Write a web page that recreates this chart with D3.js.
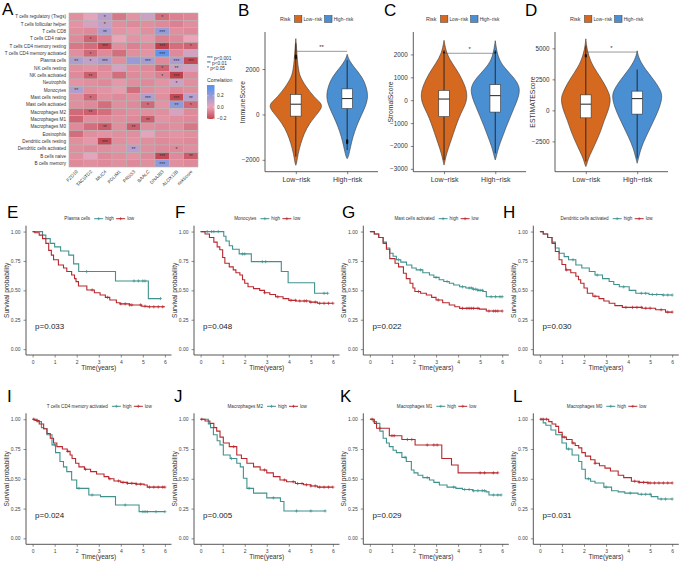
<!DOCTYPE html>
<html><head><meta charset="utf-8">
<script src="https://cdn.jsdelivr.net/npm/d3@7"></script>
<style>body{margin:0;background:#fff} svg{display:block} text{font-family:"Liberation Sans",Arial,sans-serif}</style>
</head><body><svg id="c" width="685" height="563"></svg>
<script>
// ---------------- DATA ----------------
const heatRows = ["T cells regulatory (Tregs)","T cells follicular helper","T cells CD8","T cells CD4 naive","T cells CD4 memory resting","T cells CD4 memory activated","Plasma cells","NK cells resting","NK cells activated","Neutrophils","Monocytes","Mast cells resting","Mast cells activated","Macrophages M2","Macrophages M1","Macrophages M0","Eosinophils","Dendritic cells resting","Dendritic cells activated","B cells naive","B cells memory"];
const heatCols = ["FZD10","TACSTD2","MUC4","PDLIM1","PRSS3","BAALC","DNAJB3","ALOX12B","riskScore"];
const heatValues = [
 [-0.05, 0.02, 0.12,-0.10,-0.04, 0.08,-0.12,-0.08,-0.07],
 [-0.04, 0.05, 0.10,-0.05,-0.06,-0.05,-0.06,-0.08,-0.05],
 [-0.05,-0.06, 0.15,-0.04,-0.03,-0.05, 0.20,-0.05,-0.06],
 [-0.06,-0.14,-0.08, 0.00,-0.04,-0.03,-0.08,-0.06, 0.00],
 [-0.10,-0.12,-0.20,-0.05,-0.08,-0.06,-0.22,-0.12,-0.14],
 [-0.05,-0.13,-0.06,-0.12,-0.05,-0.04, 0.33,-0.06, 0.06],
 [ 0.15, 0.10, 0.16,-0.05, 0.20, 0.16,-0.06, 0.15,-0.20],
 [-0.05,-0.04,-0.06, 0.05,-0.05,-0.06,-0.14, 0.08, 0.05],
 [-0.06,-0.15,-0.05,-0.12,-0.06,-0.05,-0.08,-0.22,-0.06],
 [-0.04,-0.05,-0.06,-0.03,-0.05,-0.06,-0.04, 0.08,-0.05],
 [ 0.14,-0.05,-0.04,-0.02,-0.12,-0.05,-0.04,-0.06,-0.05],
 [-0.05,-0.13,-0.05,-0.06,-0.05, 0.14,-0.05,-0.20, 0.12],
 [-0.05,-0.06,-0.12,-0.05,-0.06,-0.13,-0.04, 0.22,-0.13],
 [-0.13,-0.15,-0.12,-0.06,-0.05,-0.05,-0.05, 0.05,-0.06],
 [-0.14,-0.05,-0.06,-0.05,-0.06,-0.15,-0.04,-0.05,-0.06],
 [-0.06,-0.12,-0.16,-0.05,-0.15,-0.05,-0.06,-0.05,-0.10],
 [-0.12,-0.05,-0.04,-0.05,-0.05, 0.02,-0.05,-0.04,-0.05],
 [-0.05,-0.03,-0.20,-0.05,-0.04,-0.05,-0.06,-0.05,-0.06],
 [-0.05,-0.06,-0.05,-0.04, 0.12,-0.05,-0.06,-0.06,-0.05],
 [-0.05, 0.02,-0.06,-0.05,-0.04,-0.06,-0.20,-0.06,-0.16],
 [-0.06,-0.05,-0.06,-0.05,-0.06,-0.05, 0.22,-0.05,-0.06]
];
const heatStars = [
 ["","","*","","","","*","",""],
 ["","","*","","","","","",""],
 ["","","**","","","","***","",""],
 ["","*","","","","","","",""],
 ["","","***","","","","***","","*"],
 ["","*","","","","","***","",""],
 ["**","*","***","","","***","","***","***"],
 ["","","","","","","*","**",""],
 ["","**","","","","","*","***",""],
 ["","","","","","","","*",""],
 ["**","","","","","","","",""],
 ["","*","","","","***","","***","**"],
 ["","","","","","*","","**","*"],
 ["","**","","","","","","",""],
 ["","","","","","**","","",""],
 ["","","**","","**","","","",""],
 ["","","","","","","","",""],
 ["","","***","","","","","",""],
 ["","","","","**","","","*",""],
 ["","","","","","","***","","**"],
 ["","","","","","","***","",""]
];
const corrTicks = [0.2, 0.0, -0.2];
const sigLegend = ["*** p<0.001","** p<0.01","* p<0.05"];

const riskGroups = ["Low-risk","High-risk"];
// violin outlines: [score, relative density]
const immuneLowShape = [[3340,0],[2900,0.03],[2390,0.06],[2000,0.1],[1650,0.16],[1210,0.4],[770,0.7],[480,0.99],[300,1.0],[44,0.84],[-395,0.52],[-835,0.32],[-1275,0.19],[-1714,0.09],[-2150,0.03],[-2240,0]];
const immuneHighShape = [[2650,0],[2390,0.07],[2090,0.26],[1650,0.58],[1210,0.74],[770,0.81],[330,0.7],[-110,0.51],[-545,0.35],[-985,0.22],[-1425,0.13],[-1860,0.05],[-1950,0]];
// [lower line end, Q1, median, Q3, upper line end]
const immuneBoxes = [[-1860,-75,450,880,3130],[-1570,260,700,1125,2390]];
const immuneOutliers = [[2470,2500,2530,2560,2590],[-1140,-1170,-1200,-1230,-1260]];
const stromalLowShape = [[2615,0],[2035,0.09],[1600,0.32],[1165,0.58],[728,0.77],[292,0.9],[-144,0.85],[-580,0.64],[-1015,0.49],[-1450,0.36],[-1890,0.23],[-2325,0.1],[-2690,0.03],[-2835,0]];
const stromalHighShape = [[2600,0],[1890,0.09],[1450,0.32],[1015,0.7],[580,0.96],[144,0.9],[-292,0.74],[-728,0.58],[-1165,0.42],[-1600,0.28],[-2035,0.13],[-2470,0.04],[-2615,0]];
const stromalBoxes = [[-2615,-720,50,430,2180],[-2320,-520,200,680,2180]];
const stromalOutliers = [[2080],[2080]];
const estimateLowShape = [[5765,0],[4940,0.04],[3850,0.19],[3020,0.45],[2200,0.7],[1375,0.9],[825,0.96],[0,0.87],[-825,0.7],[-1650,0.58],[-2470,0.41],[-3295,0.23],[-3850,0.1],[-4395,0.03],[-4530,0]];
const estimateHighShape = [[4800,0],[4120,0.07],[3295,0.32],[2470,0.64],[1650,0.9],[1100,0.97],[275,0.87],[-550,0.7],[-1375,0.51],[-2200,0.32],[-3020,0.15],[-3850,0.05],[-4260,0]];
const estimateBoxes = [[-4120,-600,500,1250,5215],[-3850,-300,950,1550,3295]];
const estimateOutliers = [[4350,4450],[]];
const immuneTicks = [-2000,0,2000];
const stromalTicks = [-3000,-2000,-1000,0,1000,2000];
const estimateTicks = [-2500,0,2500,5000];

// Kaplan-Meier curves: [time(years), survival]
const plasmaHigh = [[0,1],[0.45,0.97],[0.6,0.94],[0.8,0.9],[1.0,0.87],[1.27,0.835],[1.64,0.8],[1.86,0.725],[2.09,0.66],[3.76,0.58],[5.25,0.43],[5.8,0.43]];
const plasmaLow = [[0,1],[0.1,0.99],[0.3,0.97],[0.45,0.94],[0.6,0.9],[0.73,0.84],[0.85,0.8],[0.95,0.76],[1.17,0.716],[1.4,0.69],[1.55,0.66],[1.77,0.63],[1.9,0.6],[1.97,0.574],[2.08,0.537],[2.46,0.503],[2.8,0.48],[3.06,0.46],[3.3,0.44],[3.5,0.418],[3.8,0.395],[3.96,0.385],[4.4,0.376],[4.95,0.365],[5.2,0.36],[6.0,0.36]];
const plasmaHighCens = [2.45,4.6,4.8,5.0,5.1,5.8];
const plasmaLowCens = [2.7,3.4,4.0,4.2,4.4,4.5,4.9,5.1,5.3,5.5,5.7,5.9];
const monoHigh = [[0,1],[1.05,0.96],[1.15,0.92],[1.3,0.88],[1.45,0.85],[1.75,0.81],[2.3,0.744],[3.66,0.66],[3.97,0.565],[5.17,0.475],[5.76,0.475]];
const monoLow = [[0,1],[0.2,0.98],[0.4,0.95],[0.6,0.91],[0.75,0.87],[0.87,0.845],[1.0,0.78],[1.1,0.73],[1.3,0.7],[1.48,0.674],[1.6,0.65],[1.78,0.63],[1.9,0.59],[2.0,0.56],[2.15,0.53],[2.4,0.515],[2.68,0.5],[2.9,0.48],[3.14,0.465],[3.4,0.445],[3.74,0.43],[4.0,0.415],[4.34,0.41],[4.95,0.4],[5.3,0.39],[6.0,0.39]];
const monoHighCens = [0.3,0.5,0.6,0.8,1.9,2.0,2.8,2.95,5.6,5.76];
const monoLowCens = [2.9,3.5,4.1,4.3,4.5,4.7,4.8,5.0,5.2,5.4,5.6,5.8,6.0];
const mastHigh = [[0,1],[0.2,0.98],[0.4,0.95],[0.6,0.91],[0.75,0.86],[0.9,0.815],[1.05,0.79],[1.2,0.76],[1.4,0.74],[1.66,0.716],[1.9,0.69],[2.1,0.674],[2.4,0.65],[2.7,0.63],[2.9,0.61],[3.14,0.59],[3.35,0.575],[3.6,0.56],[3.8,0.545],[4.07,0.53],[4.35,0.52],[4.67,0.51],[4.9,0.5],[5.13,0.49],[5.28,0.446],[6.0,0.446]];
const mastLow = [[0,1],[0.2,0.98],[0.4,0.95],[0.6,0.9],[0.75,0.85],[0.9,0.77],[1.14,0.73],[1.3,0.7],[1.52,0.645],[1.65,0.6],[1.82,0.56],[1.95,0.52],[2.04,0.49],[2.3,0.475],[2.56,0.46],[2.8,0.44],[3.0,0.418],[3.3,0.395],[3.6,0.375],[3.85,0.36],[4.07,0.347],[4.97,0.34],[5.28,0.324],[6.0,0.324]];
const mastHighCens = [1.3,2.3,3.0,3.5,4.2,4.5,4.6,4.7,4.8,4.9,5.0,5.1,5.5,5.7,5.9,6.0];
const mastLowCens = [2.2,3.1,4.2,4.4,4.5,4.6,4.7,4.9,5.4,5.6,5.7,5.8,6.0];
const dcHigh = [[0,1],[0.15,0.98],[0.35,0.95],[0.55,0.91],[0.7,0.86],[0.87,0.815],[1.1,0.787],[1.3,0.76],[1.63,0.716],[1.9,0.69],[2.24,0.66],[2.5,0.63],[2.84,0.6],[3.14,0.575],[3.35,0.55],[3.6,0.53],[4.05,0.5],[4.35,0.475],[4.95,0.465],[5.55,0.46],[6.0,0.46]];
const dcLow = [[0,1],[0.15,0.98],[0.35,0.95],[0.55,0.9],[0.7,0.83],[0.87,0.76],[1.0,0.72],[1.17,0.674],[1.4,0.65],[1.63,0.62],[1.75,0.59],[1.85,0.56],[2.0,0.52],[2.15,0.475],[2.4,0.45],[2.68,0.43],[2.9,0.41],[3.14,0.39],[3.4,0.37],[3.74,0.355],[4.65,0.348],[5.25,0.335],[5.7,0.315],[6.0,0.315]];
const dcHighCens = [1.5,2.6,3.8,4.6,4.8,5.1,5.3,5.6,5.8,6.0];
const dcLowCens = [1.2,2.5,3.9,4.2,4.4,4.6,4.8,5.0,5.5,5.8,6.0];
const cd4High = [[0,1],[0.2,0.98],[0.4,0.93],[0.5,0.92],[0.65,0.87],[0.88,0.785],[1.04,0.72],[1.24,0.645],[1.4,0.6],[1.55,0.56],[1.77,0.49],[2.0,0.42],[2.55,0.364],[3.08,0.35],[3.76,0.28],[4.83,0.224],[6.0,0.224]];
const cd4Low = [[0,1],[0.1,0.99],[0.3,0.96],[0.5,0.92],[0.65,0.88],[0.8,0.84],[0.95,0.8],[1.1,0.77],[1.35,0.75],[1.57,0.73],[1.7,0.7],[1.79,0.67],[1.95,0.63],[2.1,0.6],[2.35,0.58],[2.63,0.56],[2.9,0.54],[3.24,0.518],[3.45,0.5],[3.69,0.482],[4.0,0.47],[4.3,0.462],[4.7,0.455],[5.06,0.448],[5.2,0.43],[6.0,0.43]];
const cd4HighCens = [1.0,2.1,2.7,4.2,5.0,5.1,5.2,5.6,6.0];
const cd4LowCens = [0.05,0.2,1.6,2.4,3.5,3.9,4.1,4.3,4.5,4.7,4.9,5.3,5.5,5.7,5.9,6.0];
const m2High = [[0,1],[0.35,0.96],[0.45,0.93],[0.58,0.87],[0.75,0.82],[0.88,0.785],[1.03,0.7],[1.34,0.67],[1.64,0.63],[1.8,0.6],[1.94,0.505],[2.1,0.42],[2.4,0.38],[3.0,0.34],[3.62,0.31],[3.78,0.23],[5.65,0.23]];
const m2Low = [[0,1],[0.2,0.985],[0.42,0.965],[0.6,0.93],[0.73,0.9],[0.88,0.85],[1.03,0.8],[1.3,0.77],[1.64,0.7],[1.85,0.67],[2.1,0.63],[2.4,0.6],[2.7,0.574],[3.0,0.55],[3.3,0.518],[3.6,0.49],[3.9,0.475],[4.3,0.46],[4.67,0.45],[5.0,0.44],[5.3,0.43],[6.0,0.43]];
const m2HighCens = [1.4,2.2,3.3,4.35,5.0,5.65];
const m2LowCens = [0.05,1.5,2.9,3.8,4.2,4.4,4.6,4.8,5.0,5.2,5.4,5.6,5.8,6.0];
const m1High = [[0,1],[0.15,0.98],[0.3,0.965],[0.45,0.9],[0.6,0.84],[0.75,0.8],[0.88,0.77],[1.05,0.74],[1.2,0.72],[1.45,0.68],[1.65,0.645],[1.88,0.574],[2.0,0.55],[2.18,0.53],[2.4,0.51],[2.7,0.49],[2.9,0.47],[3.15,0.448],[3.5,0.43],[3.9,0.42],[4.2,0.41],[4.65,0.4],[5.27,0.39],[5.4,0.364],[5.95,0.364]];
const m1Low = [[0,1],[0.2,0.965],[0.3,0.924],[0.88,0.862],[1.45,0.83],[2.05,0.784],[3.26,0.67],[3.7,0.616],[4.0,0.55],[5.8,0.55]];
const m1HighCens = [1.6,2.6,3.8,4.3,4.5,4.7,4.9,5.1,5.2,5.6,5.8,5.95];
const m1LowCens = [0.1,0.45,1.0,1.1,1.7,1.9,2.6,2.9,3.05,5.0,5.2,5.6,5.8];
const m0High = [[0,1],[0.15,0.97],[0.27,0.95],[0.5,0.91],[0.72,0.87],[1.0,0.8],[1.2,0.75],[1.46,0.7],[1.76,0.645],[1.9,0.58],[2.06,0.5],[2.3,0.48],[2.5,0.465],[2.9,0.43],[3.25,0.4],[3.55,0.39],[3.85,0.38],[4.45,0.37],[5.05,0.35],[5.35,0.33],[6.0,0.33]];
const m0Low = [[0,1],[0.4,0.98],[0.55,0.96],[0.72,0.94],[0.85,0.89],[1.01,0.85],[1.2,0.83],[1.46,0.8],[1.6,0.78],[1.76,0.76],[1.9,0.72],[2.06,0.69],[2.3,0.66],[2.5,0.63],[2.7,0.61],[2.95,0.59],[3.2,0.565],[3.55,0.53],[3.8,0.51],[4.15,0.48],[4.5,0.47],[4.9,0.465],[6.0,0.465]];
const m0HighCens = [1.3,2.2,3.0,4.1,4.6,4.8,5.0,5.5,5.7,6.0];
const m0LowCens = [0.05,0.15,0.3,1.1,1.5,2.5,4.3,4.5,4.7,4.9,5.0,5.2,5.4,5.6,5.8,6.0];
const survTicks = [0,0.25,0.5,0.75,1];
const timeTicks = [0,1,2,3,4,5,6];

// ---------------- DRAWING ----------------
const svg = d3.select("#c");
svg.append("rect").attr("width",685).attr("height",563).attr("fill","#fff");
const ORANGE = "#D4691F", BLUE = "#4A8FD2", TEAL = "#3F928E", RED = "#B8282E", AX = "#333";

function letter(t, x, y) {
  svg.append("text").attr("x", x).attr("y", y).text(t)
    .attr("font-family", "'Liberation Serif','DejaVu Serif',serif").attr("font-size", 17).attr("fill", "#000");
}

// ---- Panel A heatmap ----
letter("A", 2, 15);
const hx = d3.scaleBand().domain(heatCols).range([69, 198]);
const hy = d3.scaleBand().domain(heatRows).range([13, 167]);
const hColor = d3.scaleLinear().domain([-0.22, 0, 0.35]).range(["#C0404C", "#EAA6B8", "#5A93EE"]).clamp(true);
const gA = svg.append("g");
heatRows.forEach((r, i) => {
  heatCols.forEach((c, j) => {
    gA.append("rect").attr("x", hx(c)).attr("y", hy(r)).attr("width", hx.bandwidth()).attr("height", hy.bandwidth())
      .attr("fill", hColor(heatValues[i][j])).attr("stroke", "#b5b5b5").attr("stroke-width", 0.6);
    if (heatStars[i][j]) gA.append("text").attr("x", hx(c) + hx.bandwidth() / 2).attr("y", hy(r) + hy.bandwidth() / 2 + 2.3)
      .attr("text-anchor", "middle").attr("font-size", 5).attr("fill", "#333").text(heatStars[i][j]);
  });
  gA.append("text").attr("x", 66).attr("y", hy(r) + hy.bandwidth() / 2 + 1.7).attr("text-anchor", "end")
    .attr("font-size", 4.6).attr("fill", "#333").text(r);
});
heatCols.forEach(c => {
  const cx = hx(c) + hx.bandwidth() / 2;
  gA.append("text").attr("transform", `translate(${cx + 2},${172}) rotate(-45)`).attr("text-anchor", "end")
    .attr("font-size", 4.6).attr("fill", "#333").text(c);
});
sigLegend.forEach((s, i) => {
  gA.append("text").attr("x", 207).attr("y", 60 + i * 5.2).attr("font-size", 4.8).attr("fill", "#333").text(s);
});
gA.append("text").attr("x", 207).attr("y", 82).attr("font-size", 5.2).attr("fill", "#333").text("Correlation");
const cb = d3.scaleLinear().domain([-0.21, 0.39]).range([119, 85]);
const grad = svg.append("defs").append("linearGradient").attr("id", "cg").attr("x1", 0).attr("x2", 0).attr("y1", 1).attr("y2", 0);
d3.range(0, 1.0001, 0.1).forEach(f => {
  const v = -0.21 + f * 0.6;
  grad.append("stop").attr("offset", f).attr("stop-color", hColor(v));
});
gA.append("rect").attr("x", 207).attr("y", 85).attr("width", 7.5).attr("height", 34).attr("fill", "url(#cg)");
corrTicks.forEach(t => {
  gA.append("line").attr("x1", 207).attr("x2", 208.5).attr("y1", cb(t)).attr("y2", cb(t)).attr("stroke", "#fff").attr("stroke-width", 0.5);
  gA.append("line").attr("x1", 213).attr("x2", 214.5).attr("y1", cb(t)).attr("y2", cb(t)).attr("stroke", "#fff").attr("stroke-width", 0.5);
  gA.append("text").attr("x", 217).attr("y", cb(t) + 1.7).attr("font-size", 4.8).attr("fill", "#333").text(t.toFixed(1).replace("-", "\u2212"));
});

// ---- Violin panels ----
function violinPanel(o) {
  const g = svg.append("g");
  const y = d3.scaleLinear().domain(o.domain).range([171.7, 32]);
  const x = d3.scalePoint().domain(riskGroups).range([o.left, o.right]).padding(0.6);
  const w = d3.scaleLinear().domain([0, 1]).range([0, 26]);
  const shapes = [o.low, o.high], cols = [ORANGE, BLUE];
  shapes.forEach((s, k) => {
    const cx = x(riskGroups[k]);
    const area = d3.area().curve(d3.curveBasis).y(d => y(d[0])).x0(d => cx - w(d[1])).x1(d => cx + w(d[1]));
    g.append("path").attr("d", area(s)).attr("fill", cols[k]).attr("stroke", "#3a3a3a").attr("stroke-width", 0.6);
    const b = o.boxes[k];
    g.append("line").attr("x1", cx).attr("x2", cx).attr("y1", y(b[0])).attr("y2", y(b[4])).attr("stroke", "#2a2a2a").attr("stroke-width", 1);
    o.outliers[k].forEach(v => g.append("circle").attr("cx", cx).attr("cy", y(v)).attr("r", 1.1).attr("fill", "#111"));
    g.append("rect").attr("x", cx - 5.3).attr("width", 10.6).attr("y", y(b[3])).attr("height", y(b[1]) - y(b[3]))
      .attr("fill", "#fff").attr("stroke", "#333").attr("stroke-width", 0.6);
    g.append("line").attr("x1", cx - 5.3).attr("x2", cx + 5.3).attr("y1", y(b[2])).attr("y2", y(b[2])).attr("stroke", "#333").attr("stroke-width", 1.1);
  });
  // significance
  g.append("line").attr("x1", x(riskGroups[0])).attr("x2", x(riskGroups[1])).attr("y1", y(o.sig)).attr("y2", y(o.sig))
    .attr("stroke", "#555").attr("stroke-width", 0.6);
  g.append("text").attr("x", (x(riskGroups[0]) + x(riskGroups[1])) / 2).attr("y", y(o.sig) - 2).attr("text-anchor", "middle")
    .attr("font-size", 6).attr("fill", "#333").text(o.sigLabel);
  // axes
  const ya = g.append("g").attr("transform", `translate(${o.left},0)`)
    .call(d3.axisLeft(y).tickValues(o.ticks).tickSize(2.5).tickFormat(d => String(d).replace("-", "\u2212")));
  const xa = g.append("g").attr("transform", `translate(0,171.7)`).call(d3.axisBottom(x).tickSize(2.5).tickFormat(d => d.replace("-", "\u2212")));
  [ya, xa].forEach(a => {
    a.select(".domain").attr("stroke", AX).attr("stroke-width", 0.8);
    a.selectAll(".tick line").attr("stroke", AX).attr("stroke-width", 0.6);
    a.selectAll("text").attr("fill", "#333").attr("font-size", 6.3).attr("font-family", "'Liberation Sans',Arial,sans-serif");
  });
  ya.select(".domain").attr("d", `M0,32V171.7`);
  xa.select(".domain").attr("d", `M${o.left},0H${o.right}`);
  xa.selectAll("text").attr("font-size", 7).attr("dy", "0.75em");
  g.append("text").attr("transform", `translate(${o.left - 20},${102}) rotate(-90)`).attr("text-anchor", "middle")
    .attr("font-size", 6.8).attr("fill", "#333").text(o.title);
  // legend
  const ly = 19;
  let lx = o.legendX;
  const rt = g.append("text").attr("x", lx).attr("y", ly + 2).attr("font-size", 5.4).attr("fill", "#333").text("Risk");
  lx += rt.node().getComputedTextLength() + 4;
  [[ORANGE, "Low\u2212risk"], [BLUE, "High\u2212risk"]].forEach(([col, lab]) => {
    g.append("rect").attr("x", lx).attr("y", ly - 3.4).attr("width", 7.4).attr("height", 6.8).attr("fill", col).attr("stroke", "#333").attr("stroke-width", 0.5);
    lx += 9;
    const t = g.append("text").attr("x", lx).attr("y", ly + 1.8).attr("font-size", 4.7).attr("fill", "#333").text(lab);
    lx += t.node().getComputedTextLength() + 2.5;
  });
}
letter("B", 238, 16);
violinPanel({left: 265, right: 378, domain: [-2523, 3631], ticks: immuneTicks, title: "ImmuneScore",
  low: immuneLowShape, high: immuneHighShape, boxes: immuneBoxes, outliers: immuneOutliers, sig: 2780, sigLabel: "**", legendX: 280});
letter("C", 384, 16);
violinPanel({left: 413.3, right: 526, domain: [-3125, 2980], ticks: stromalTicks, title: "StromalScore",
  low: stromalLowShape, high: stromalHighShape, boxes: stromalBoxes, outliers: stromalOutliers, sig: 2050, sigLabel: "*", legendX: 426});
letter("D", 525, 16);
violinPanel({left: 555, right: 668, domain: [-4940, 6315], ticks: estimateTicks, title: "ESTIMATEScore",
  low: estimateLowShape, high: estimateHighShape, boxes: estimateBoxes, outliers: estimateOutliers, sig: 4700, sigLabel: "*", legendX: 570});

// ---- KM panels ----
function stepVal(curve, t) {
  let v = curve[0][1];
  for (const p of curve) { if (p[0] <= t) v = p[1]; }
  return v;
}
function kmPanel(o) {
  const g = svg.append("g");
  const W = 145.5;
  const x = d3.scaleLinear().domain([-0.3, 6.3]).range([o.left, o.left + W]);
  const y = d3.scaleLinear().domain([-0.05, 1.05]).range([o.bottom, o.top]);
  const line = d3.line().curve(d3.curveStepAfter).x(d => x(d[0])).y(d => y(d[1]));
  [[o.high, o.highC, TEAL], [o.low, o.lowC, RED]].forEach(([c, cens, col]) => {
    g.append("path").attr("d", line(c)).attr("fill", "none").attr("stroke", col).attr("stroke-width", 1.1);
    cens.forEach(t => {
      const px = x(t), py = y(stepVal(c, t));
      g.append("path").attr("d", `M${px - 1.6},${py}H${px + 1.6}M${px},${py - 1.6}V${py + 1.6}`).attr("stroke", col).attr("stroke-width", 0.7);
    });
  });
  const ya = g.append("g").attr("transform", `translate(${o.left},0)`)
    .call(d3.axisLeft(y).tickValues(survTicks).tickSize(2.5).tickFormat(d3.format(".2f")));
  const xa = g.append("g").attr("transform", `translate(0,${o.bottom})`)
    .call(d3.axisBottom(x).tickValues(timeTicks).tickSize(2.5).tickFormat(d3.format("d")));
  [ya, xa].forEach(a => {
    a.select(".domain").attr("stroke", "#444").attr("stroke-width", 0.9);
    a.selectAll(".tick line").attr("stroke", "#444").attr("stroke-width", 0.6);
    a.selectAll("text").attr("fill", "#444").attr("font-size", 5).attr("font-family", "'Liberation Sans',Arial,sans-serif");
  });
  ya.select(".domain").attr("d", `M0,${o.top}V${o.bottom}`);
  xa.select(".domain").attr("d", `M${o.left},0H${o.left + W}`);
  g.append("text").attr("transform", `translate(${o.left - 17},${(o.top + o.bottom) / 2}) rotate(-90)`).attr("text-anchor", "middle")
    .attr("font-size", 6.6).attr("fill", "#333").text("Survival probability");
  g.append("text").attr("x", o.left + W / 2).attr("y", o.bottom + 14.5).attr("text-anchor", "middle")
    .attr("font-size", 6.6).attr("fill", "#333").text("Time(years)");
  g.append("text").attr("x", x(0) + 2.5).attr("y", y(0.2) + 3).attr("font-size", 8).attr("fill", "#222").text(o.p);
  // legend
  const lg = g.append("g");
  const ly = o.top - 7;
  const t1 = lg.append("text").attr("x", 0).attr("y", ly + 1.6).attr("font-size", 4.6).attr("fill", "#333").text(o.name);
  const tw = t1.node().getComputedTextLength();
  let cx = tw + 4;
  [[TEAL, "high"], [RED, "low"]].forEach(([col, lab]) => {
    lg.append("line").attr("x1", cx).attr("x2", cx + 9).attr("y1", ly).attr("y2", ly).attr("stroke", col).attr("stroke-width", 1);
    lg.append("path").attr("d", `M${cx + 3},${ly}H${cx + 6}M${cx + 4.5},${ly - 1.5}V${ly + 1.5}`).attr("stroke", col).attr("stroke-width", 0.7);
    lg.append("text").attr("x", cx + 11).attr("y", ly + 1.6).attr("font-size", 4.6).attr("fill", "#333").text(lab);
    cx += 11 + (lab === "high" ? 11 : 9);
  });
  const totalW = cx - 3;
  lg.attr("transform", `translate(${o.left + W / 2 - totalW / 2},0)`);
}
const row1 = {top: 225.7, bottom: 355}, row2 = {top: 413.3, bottom: 544.3};
const kmCols = [26, 194, 363.3, 533.3];
letter("E", 7, 218); letter("F", 175, 218); letter("G", 342, 218); letter("H", 503, 218);
letter("I", 7, 402); letter("J", 174, 402); letter("K", 340, 402); letter("L", 513, 402);
kmPanel({...row1, left: kmCols[0], name: "Plasma cells", high: plasmaHigh, low: plasmaLow, highC: plasmaHighCens, lowC: plasmaLowCens, p: "p=0.033"});
kmPanel({...row1, left: kmCols[1], name: "Monocytes", high: monoHigh, low: monoLow, highC: monoHighCens, lowC: monoLowCens, p: "p=0.048"});
kmPanel({...row1, left: kmCols[2], name: "Mast cells activated", high: mastHigh, low: mastLow, highC: mastHighCens, lowC: mastLowCens, p: "p=0.022"});
kmPanel({...row1, left: kmCols[3], name: "Dendritic cells activated", high: dcHigh, low: dcLow, highC: dcHighCens, lowC: dcLowCens, p: "p=0.030"});
kmPanel({...row2, left: kmCols[0], name: "T cells CD4 memory activated", high: cd4High, low: cd4Low, highC: cd4HighCens, lowC: cd4LowCens, p: "p=0.024"});
kmPanel({...row2, left: kmCols[1], name: "Macrophages M2", high: m2High, low: m2Low, highC: m2HighCens, lowC: m2LowCens, p: "p=0.005"});
kmPanel({...row2, left: kmCols[2], name: "Macrophages M1", high: m1High, low: m1Low, highC: m1HighCens, lowC: m1LowCens, p: "p=0.029"});
kmPanel({...row2, left: kmCols[3], name: "Macrophages M0", high: m0High, low: m0Low, highC: m0HighCens, lowC: m0LowCens, p: "p=0.031"});
</script></body></html>
